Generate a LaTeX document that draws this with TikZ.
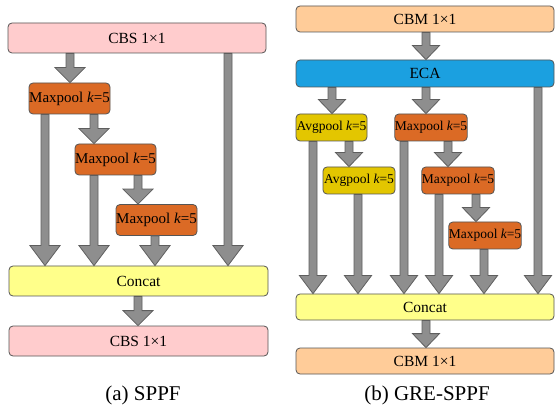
\documentclass[tikz,border=0pt]{standalone}
\usepackage{fontspec}
\setmainfont{Liberation Serif}
\usetikzlibrary{calc}
\definecolor{cbspink}{HTML}{FFCCCD}
\definecolor{cbmpeach}{HTML}{FFCC99}
\definecolor{ecablue}{HTML}{1BA0E0}
\definecolor{catyellow}{HTML}{FFFF8A}
\definecolor{maxorange}{HTML}{DB6A25}
\definecolor{avgyellow}{HTML}{E3C600}
\definecolor{boxline}{HTML}{555555}
\definecolor{arrfill}{HTML}{8E8E8E}
\definecolor{arrline}{HTML}{5E5E5E}
\tikzset{
  box/.style={draw=boxline, line width=0.8pt, rounded corners=4pt, inner sep=0pt, anchor=center, text=black,
    font=\fontsize{15.5pt}{18pt}\selectfont},
  wide/.style={box, minimum width=258pt, minimum height=30pt},
  wideb/.style={box, minimum width=258pt, minimum height=26pt},
  poolL/.style={box, fill=maxorange, minimum width=81pt, minimum height=31pt, font=\fontsize{15pt}{18pt}\selectfont},
  poolR/.style={box, minimum width=72pt, minimum height=27pt, font=\fontsize{13.5pt}{16pt}\selectfont},
  blockarrow/.style={fill=arrfill, draw=arrline, line width=0.8pt, line join=miter},
  caption/.style={font=\fontsize{21pt}{24pt}\selectfont, anchor=center, inner sep=0pt}
}
\newcommand\barrow[4]{%
  \draw[blockarrow] let \p1=#1, \p2=#2 in
    (\x1-4pt,\y1) -- (\x1-4pt,\y2+#3) -- (\x1-#4,\y2+#3) -- (\x1,\y2) --
    (\x1+#4,\y2+#3) -- (\x1+4pt,\y2+#3) -- (\x1+4pt,\y1) -- cycle;}
\begin{document}
\begin{tikzpicture}[x=1pt,y=1pt]
\useasboundingbox (0,0) rectangle (555,-409);
\fill[white] (0,0) rectangle (555,-409);
% ---------- (a) SPPF ----------
\node[wide, fill=cbspink] (cbs1) at (137,-38) {CBS 1×1};
\node[poolL] (mp1) at (69.5,-98.5) {Maxpool {\itshape k}=5};
\node[poolL] (mp2) at (115.5,-159.5) {Maxpool {\itshape k}=5};
\node[poolL] (mp3) at (156.5,-220) {Maxpool {\itshape k}=5};
\node[wide, fill=catyellow, minimum width=259pt] (cat1) at (138.5,-281) {Concat};
\node[wide, fill=cbspink, minimum width=259pt] (cbs2) at (138.5,-341) {CBS 1×1};
\node[caption] (capa) at (143,-395) {(a) SPPF};
\coordinate (La) at (45,0);
\coordinate (Lb) at (94,0);
\coordinate (Lc) at (138,0);
\coordinate (Ld) at (155,0);
\coordinate (Le) at (228,0);
\coordinate (Lf) at (70,0);
\barrow{(cbs1.south -| Lf)}{(mp1.north -| Lf)}{15pt}{15pt}
\barrow{(mp1.south -| Lb)}{(mp2.north -| Lb)}{15pt}{15pt}
\barrow{(mp2.south -| Lc)}{(mp3.north -| Lc)}{15pt}{15pt}
\barrow{(mp1.south -| La)}{(cat1.north -| La)}{20pt}{15pt}
\barrow{(mp2.south -| Lb)}{(cat1.north -| Lb)}{20pt}{15pt}
\barrow{(mp3.south -| Ld)}{(cat1.north -| Ld)}{20pt}{15pt}
\barrow{(cbs1.south -| Le)}{(cat1.north -| Le)}{20pt}{15pt}
\barrow{(cat1.south -| Lc)}{(cbs2.north -| Lc)}{15pt}{15pt}
% ---------- (b) GRE-SPPF ----------
\node[wideb, fill=cbmpeach] (cbm1) at (425,-19) {CBM 1×1};
\node[wideb, fill=ecablue, minimum height=27pt] (eca) at (425,-73.5) {ECA};
\node[poolR, fill=avgyellow, minimum width=71pt] (ap1) at (331.5,-127.5) {Avgpool {\itshape k}=5};
\node[poolR, fill=maxorange] (mx1) at (431,-127.5) {Maxpool {\itshape k}=5};
\node[poolR, fill=avgyellow] (ap2) at (359,-180.5) {Avgpool {\itshape k}=5};
\node[poolR, fill=maxorange] (mx2) at (458,-180.5) {Maxpool {\itshape k}=5};
\node[poolR, fill=maxorange] (mx3) at (485,-235.5) {Maxpool {\itshape k}=5};
\node[wideb, fill=catyellow] (cat2) at (425,-307) {Concat};
\node[wideb, fill=cbmpeach] (cbm2) at (425,-361) {CBM 1×1};
\node[caption] (capb) at (427,-395) {(b) GRE-SPPF};
\coordinate (Ra) at (313,0);
\coordinate (Rb) at (332,0);
\coordinate (Rc) at (349,0);
\coordinate (Rd) at (358,0);
\coordinate (Re) at (404,0);
\coordinate (Rf) at (426,0);
\coordinate (Rg) at (439,0);
\coordinate (Rh) at (448,0);
\coordinate (Ri) at (476,0);
\coordinate (Rj) at (484,0);
\coordinate (Rk) at (538,0);
\barrow{(cbm1.south -| Rf)}{(eca.north -| Rf)}{14pt}{13.5pt}
\barrow{(eca.south -| Rb)}{(ap1.north -| Rb)}{14pt}{13.5pt}
\barrow{(eca.south -| Rf)}{(mx1.north -| Rf)}{14pt}{13.5pt}
\barrow{(ap1.south -| Rc)}{(ap2.north -| Rc)}{14pt}{13.5pt}
\barrow{(mx1.south -| Rh)}{(mx2.north -| Rh)}{14pt}{13.5pt}
\barrow{(mx2.south -| Ri)}{(mx3.north -| Ri)}{14pt}{13.5pt}
\barrow{(ap1.south -| Ra)}{(cat2.north -| Ra)}{18pt}{13.5pt}
\barrow{(ap2.south -| Rd)}{(cat2.north -| Rd)}{18pt}{13.5pt}
\barrow{(mx1.south -| Re)}{(cat2.north -| Re)}{18pt}{13.5pt}
\barrow{(mx2.south -| Rg)}{(cat2.north -| Rg)}{18pt}{13.5pt}
\barrow{(mx3.south -| Rj)}{(cat2.north -| Rj)}{18pt}{13.5pt}
\barrow{(eca.south -| Rk)}{(cat2.north -| Rk)}{18pt}{13.5pt}
\barrow{(cat2.south -| Rf)}{(cbm2.north -| Rf)}{14pt}{13.5pt}
\end{tikzpicture}
\end{document}
